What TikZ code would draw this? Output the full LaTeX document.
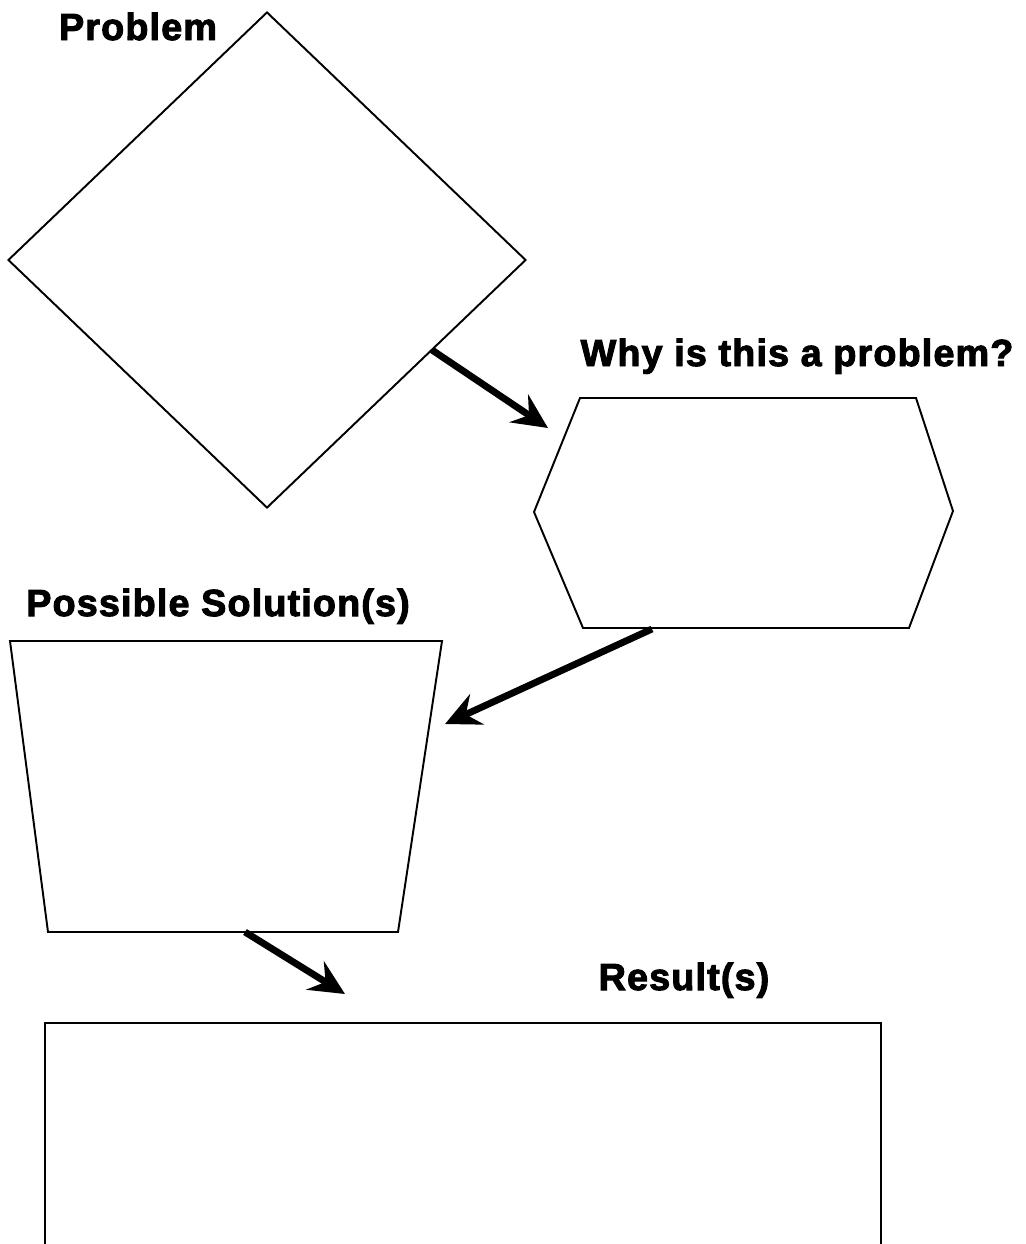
\documentclass[tikz,border=0pt]{standalone}
\usepackage{fontspec}
\newfontfamily\headfont[FakeBold=2.6,LetterSpace=3]{Liberation Sans}
\usetikzlibrary{arrows.meta,shapes.geometric}

\begin{document}
\begin{tikzpicture}[x=0.02cm,y=-0.02cm,
	box/.style={draw,line width=1.1pt,line join=miter},
	head/.style={font=\headfont\bfseries\fontsize{21.5}{25}\selectfont,inner sep=0pt,anchor=base},
	bigarrow/.style={line width=3.9pt,-{Stealth[length=20pt,width=19pt,inset=7pt]}}]
	\useasboundingbox (0,0) rectangle (1025,1244);
	% shapes
	\node[box,diamond,minimum width=518*0.02cm,minimum height=496*0.02cm,inner sep=0pt] (problem) at (267,260) {};
	\draw[box] (580,398)--(916,398)--(953,511)--(909,628)--(583,628)--(534,512)--cycle;
	\draw[box] (10,641)--(442,641)--(398,932)--(48,932)--cycle;
	\draw[box] (45,1244)--(45,1023)--(881,1023)--(881,1244);
	% titles
	\node[head] (tproblem) at (138,40) {Problem};
	\node[head] (twhy) at (797,366) {Why is this a problem?};
	\node[head] (tsol) at (218,616) {Possible Solution(s)};
	\node[head] (tres) at (684,990) {Result(s)};
	% arrows
	\coordinate (a1) at (432,350);
	\coordinate (b1) at (548,428);
	\coordinate (a2) at (652,629);
	\coordinate (b2) at (445,724);
	\coordinate (a3) at (245,932);
	\coordinate (b3) at (345,994);
	\foreach \s/\e in {a1/b1,a2/b2,a3/b3}
		\draw[bigarrow] (\s)--(\e);
\end{tikzpicture}
\end{document}
